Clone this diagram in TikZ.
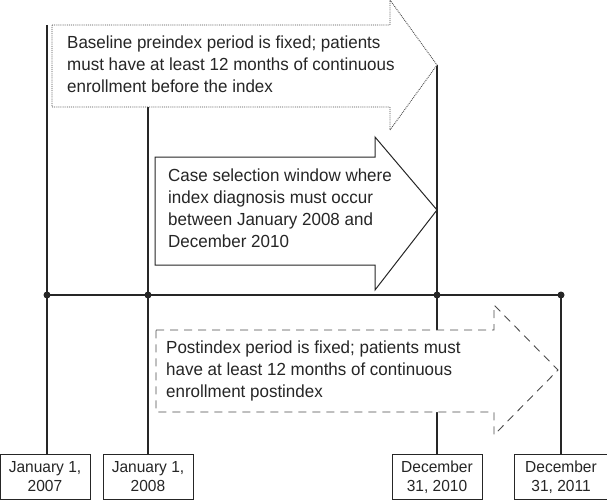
\documentclass[tikz,border=0pt]{standalone}
\usepackage{fontspec}
\setmainfont{Liberation Sans}[FakeStretch=0.97]
\begin{document}
\begin{tikzpicture}[x=1pt,y=-1pt,
  line/.style={line width=1.3pt,black!85},
  dot/.style={circle,fill=black!85,inner sep=0pt,minimum size=7pt},
  lbl/.style={draw=black!85,line width=1pt,fill=white,minimum width=90pt,minimum height=45pt,align=center,inner sep=1pt,font=\fontsize{16}{19}\selectfont,text=black!85},
  txt/.style={anchor=north west,align=left,inner sep=0pt,font=\fontsize{17.5}{22}\selectfont,text=black!85},
  arr/.style={fill=white,draw=black!70,line width=0.9pt}]
\useasboundingbox (0,0) rectangle (607,500);
% timeline
\node[dot] (d1) at (47,295) {};
\node[dot] (d2) at (148,295) {};
\node[dot] (d3) at (437,295) {};
\node[dot] (d4) at (561,295) {};
\node[lbl,anchor=south] (b1) at (45,500) {January 1,\\2007};
\node[lbl,anchor=south] (b2) at (148,500) {January 1,\\2008};
\node[lbl,anchor=south] (b3) at (437,500) {December\\31, 2010};
\node[lbl,anchor=south,minimum width=93pt] (b4) at (561,500) {December\\31, 2011};
\coordinate (t1) at (47,25);
\coordinate (t2) at (148,107);
\coordinate (t3) at (437,65);
\draw[line] (d1.center) -- (d4.center);
\draw[line] (t1) -- (b1.north -| t1);
\draw[line] (t2) -- (b2.north);
\draw[line] (t3) -- (b3.north);
\draw[line] (d4.center) -- (b4.north);
% arrow 1
\draw[arr,densely dotted] (52,25) -- (390,25) -- (390,0) -- (437,65) -- (390,130) -- (390,107) -- (52,107) -- cycle;
\node[txt] (a1) at (67,36) {Baseline preindex period is fixed; patients\\must have at least 12 months of continuous\\enrollment before the index};
% arrow 2
\draw[arr,line width=1pt,draw=black!85] (155,157) -- (375,157) -- (375,137) -- (437,210) -- (375,290) -- (375,265) -- (155,265) -- cycle;
\node[txt] (a2) at (168,169) {Case selection window where\\index diagnosis must occur\\between January 2008 and\\December 2010};
% arrow 3
\draw[arr,dash pattern=on 8pt off 6pt] (156,330) -- (494,330) -- (494,305) -- (558,370) -- (494,435) -- (494,412) -- (156,412) -- cycle;
\node[txt] (a3) at (166,341) {Postindex period is fixed; patients must\\have at least 12 months of continuous\\enrollment postindex};
\end{tikzpicture}
\end{document}
